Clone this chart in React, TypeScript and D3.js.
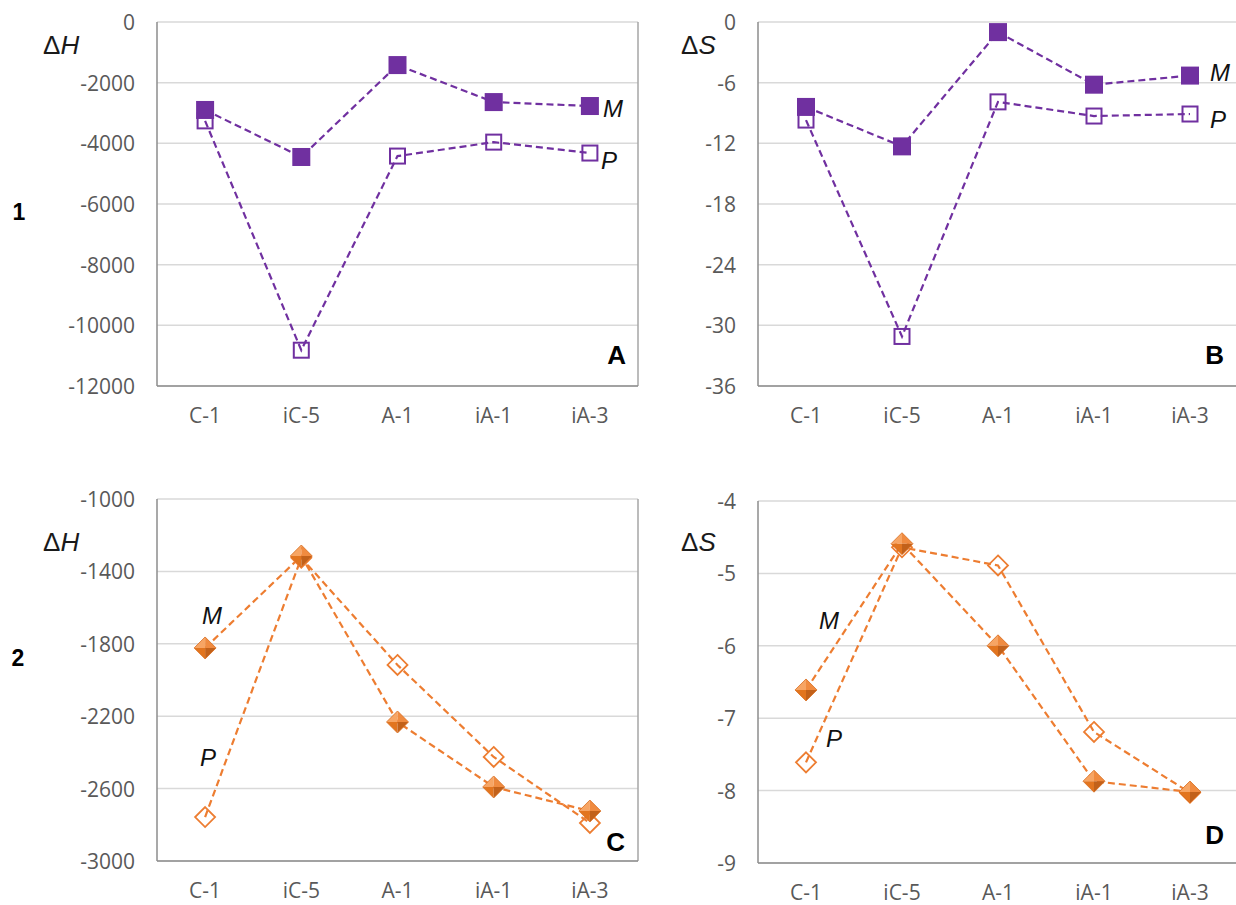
import React from "react";
import * as d3 from "d3";

const categories = ["C-1", "iC-5", "A-1", "iA-1", "iA-3"];

const aM = [-2900, -4450, -1420, -2640, -2770];
const aP = [-3260, -10820, -4420, -3960, -4320];
const bM = [-8.4, -12.3, -1.0, -6.2, -5.3];
const bP = [-9.7, -31.1, -7.9, -9.3, -9.1];
const cM = [-1823, -1315, -2232, -2591, -2724];
const cP = [-2757, -1325, -1917, -2425, -2790];
const dM = [-6.61, -4.59, -6.0, -7.87, -8.02];
const dP = [-7.61, -4.64, -4.89, -7.19, -8.03];

const aTicks = [0, -2000, -4000, -6000, -8000, -10000, -12000];
const bTicks = [0, -6, -12, -18, -24, -30, -36];
const cTicks = [-1000, -1400, -1800, -2200, -2600, -3000];
const dTicks = [-4, -5, -6, -7, -8, -9];

const PURPLE = "#7030A0";
const ORANGE = "#ED7D31";
const TICK_FONT = "'Open Sans', sans-serif";
const ARIAL = "'Liberation Sans', Arial, sans-serif";

type Panel = {
  x0: number; x1: number; y0: number; y1: number;
  ticks: number[]; m: number[]; p: number[];
  kind: "square" | "diamond";
  letter: string; letterPos: [number, number];
  axisLabel: [string, string]; axisPos: [number, number];
  mPos: [number, number]; pPos: [number, number];
};

const panels: Panel[] = [
  { x0: 157, x1: 638, y0: 22, y1: 386, ticks: aTicks, m: aM, p: aP, kind: "square",
    letter: "A", letterPos: [626, 355], axisLabel: ["Δ", "H"], axisPos: [43, 45],
    mPos: [603, 108], pPos: [601, 160] },
  { x0: 758, x1: 1238, y0: 22, y1: 386, ticks: bTicks, m: bM, p: bP, kind: "square",
    letter: "B", letterPos: [1224, 355], axisLabel: ["Δ", "S"], axisPos: [681, 45],
    mPos: [1210, 72], pPos: [1210, 119] },
  { x0: 157, x1: 638, y0: 499, y1: 861, ticks: cTicks, m: cM, p: cP, kind: "diamond",
    letter: "C", letterPos: [625, 842], axisLabel: ["Δ", "H"], axisPos: [43, 542],
    mPos: [202, 615], pPos: [200, 757] },
  { x0: 758, x1: 1238, y0: 501, y1: 863, ticks: dTicks, m: dM, p: dP, kind: "diamond",
    letter: "D", letterPos: [1224, 835], axisLabel: ["Δ", "S"], axisPos: [681, 542],
    mPos: [819, 620], pPos: [826, 738] },
];

function Diamond({ cx, cy, r, filled }: { cx: number; cy: number; r: number; filled: boolean }) {
  const T: [number, number] = [cx, cy - r];
  const R: [number, number] = [cx + r, cy];
  const B: [number, number] = [cx, cy + r];
  const L: [number, number] = [cx - r, cy];
  const C: [number, number] = [cx, cy];
  const pts = (a: [number, number][]) => a.map((p) => p.join(",")).join(" ");
  if (!filled) {
    return <polygon points={pts([T, R, B, L])} fill="none" stroke={ORANGE} strokeWidth={1.8} />;
  }
  return (
    <g>
      <polygon points={pts([L, T, C])} fill="#F7A564" />
      <polygon points={pts([T, R, C])} fill="#F08B40" />
      <polygon points={pts([L, B, C])} fill="#E2751F" />
      <polygon points={pts([R, B, C])} fill="#C2611A" />
      <polygon points={pts([T, R, B, L])} fill="none" stroke="#D86C1E" strokeWidth={0.8} />
    </g>
  );
}

function PanelView({ pn }: { pn: Panel }) {
  const x = d3.scaleBand<string>().domain(categories).range([pn.x0, pn.x1]);
  const ext = d3.extent(pn.ticks) as [number, number];
  const y = d3.scaleLinear().domain([ext[0], ext[1]]).range([pn.y1, pn.y0]);
  const cx = (c: string) => (x(c) as number) + x.bandwidth() / 2;
  const color = pn.kind === "square" ? PURPLE : ORANGE;
  const line = d3
    .line<number>()
    .x((_, i) => cx(categories[i]))
    .y((v) => y(v));

  const marker = (v: number, i: number, filled: boolean) => {
    const px = cx(categories[i]);
    const py = y(v);
    if (pn.kind === "square") {
      return filled ? (
        <rect key={i} x={px - 9} y={py - 9} width={18} height={18} fill={PURPLE} />
      ) : (
        <rect key={i} x={px - 7.5} y={py - 7.5} width={15} height={15} fill="none" stroke={PURPLE} strokeWidth={2} />
      );
    }
    return <Diamond key={i} cx={px} cy={py} r={filled ? 11 : 10} filled={filled} />;
  };

  return (
    <g>
      {pn.ticks.map((t) => (
        <line key={t} x1={pn.x0} x2={pn.x1} y1={y(t)} y2={y(t)} stroke="#D9D9D9" strokeWidth={1.5} />
      ))}
      <line x1={pn.x0} x2={pn.x0} y1={pn.y0} y2={pn.y1} stroke="#8C8C8C" strokeWidth={1.5} />
      <line x1={pn.x1} x2={pn.x1} y1={pn.y0} y2={pn.y1} stroke="#A6A6A6" strokeWidth={1.5} />
      <line x1={pn.x0} x2={pn.x1} y1={pn.y1} y2={pn.y1} stroke="#8C8C8C" strokeWidth={1.5} />
      {pn.ticks.map((t) => (
        <text key={"l" + t} x={pn.x0 - 22} y={y(t)} textAnchor="end" dominantBaseline="central"
          fontFamily={TICK_FONT} fontSize={21} fill="#595959">{t}</text>
      ))}
      {categories.map((c) => (
        <text key={c} x={cx(c)} y={pn.y1 + 29} textAnchor="middle" dominantBaseline="central"
          fontFamily={TICK_FONT} fontSize={21} fill="#595959">{c}</text>
      ))}
      <path d={line(pn.p) as string} fill="none" stroke={color} strokeWidth={2.2} strokeDasharray="7,4" />
      <path d={line(pn.m) as string} fill="none" stroke={color} strokeWidth={2.2} strokeDasharray="7,4" />
      {pn.p.map((v, i) => marker(v, i, false))}
      {pn.m.map((v, i) => marker(v, i, true))}
      <text x={pn.axisPos[0]} y={pn.axisPos[1]} dominantBaseline="central" fontFamily={ARIAL} fontSize={26} fill="#1a1a1a">
        {pn.axisLabel[0]}<tspan fontStyle="italic">{pn.axisLabel[1]}</tspan>
      </text>
      <text x={pn.mPos[0]} y={pn.mPos[1]} dominantBaseline="central" fontFamily={ARIAL} fontSize={24} fontStyle="italic" fill="#111">M</text>
      <text x={pn.pPos[0]} y={pn.pPos[1]} dominantBaseline="central" fontFamily={ARIAL} fontSize={24} fontStyle="italic" fill="#111">P</text>
      <text x={pn.letterPos[0]} y={pn.letterPos[1]} textAnchor="end" dominantBaseline="central" fontFamily={ARIAL} fontSize={26} fontWeight="bold" fill="#000">{pn.letter}</text>
    </g>
  );
}

export default function App() {
  return (
    <svg width={1236} height={905} style={{ position: "absolute", left: 0, top: 0, background: "#fff" }}>
      <rect width={1236} height={905} fill="#fff" />
      {panels.map((pn) => (
        <PanelView key={pn.letter} pn={pn} />
      ))}
      <text x={19} y={212} textAnchor="middle" dominantBaseline="central" fontFamily={ARIAL} fontSize={23} fontWeight="bold" fill="#000">1</text>
      <text x={18} y={658} textAnchor="middle" dominantBaseline="central" fontFamily={ARIAL} fontSize={23} fontWeight="bold" fill="#000">2</text>
    </svg>
  );
}
